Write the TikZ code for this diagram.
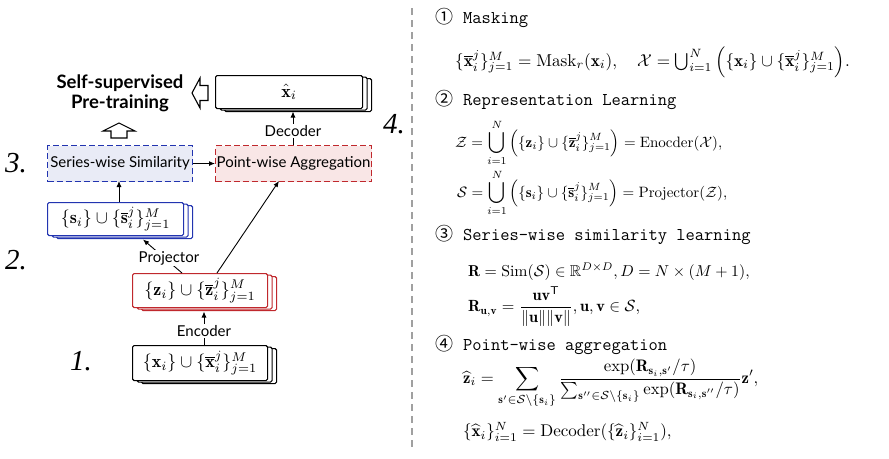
\documentclass[tikz,border=0pt]{standalone}
\usepackage{fontspec}
\usepackage{amsmath,amssymb}
\usepackage{graphicx}
\usetikzlibrary{shadows,arrows.meta}
\newfontfamily\labfont{Lato}
\newfontfamily\symfont{Noto Sans CJK SC}
\newfontfamily\numfont{Liberation Serif}
\definecolor{blueline}{HTML}{2234B0}
\definecolor{redline}{HTML}{C0282D}
\definecolor{bluefill}{HTML}{E9EBF6}
\definecolor{redfill}{HTML}{F9E6E6}
\definecolor{sepgray}{HTML}{A0A0A0}
\newcommand\EQ[2]{\scalebox{#1}{$#2$}}
\newcommand\DEQ[2]{\scalebox{#1}{$\displaystyle #2$}}
\newcommand\BX[1]{\scalebox{1.8}{$#1$}}
\newcommand\HD[2]{{\fontsize{18}{21}\selectfont\makebox[28pt][l]{\symfont #1}\ttfamily #2}}
\begin{document}
\begin{tikzpicture}[x=1pt,y=-1pt,
  box/.style={draw, line width=1.1pt, rounded corners=1.5pt, fill=white, inner sep=0pt, anchor=north west},
  stack/.style={double copy shadow={shadow xshift=4.5pt, shadow yshift=-1.5pt}},
  dbox/.style={draw, line width=1.1pt, dash pattern=on 6pt off 3pt, inner sep=0pt, anchor=north west, font=\labfont\fontsize{15}{17}\selectfont},
  lab/.style={font=\labfont\fontsize{15}{17}\selectfont, fill=white, inner sep=1pt},
  arr/.style={line width=0.9pt, -{Latex[length=6pt,width=5pt]}},
  num/.style={font=\numfont\itshape\fontsize{29}{32}\selectfont},
  hd/.style={anchor=west, inner sep=0pt},
  eq/.style={anchor=west, inner sep=0pt},
  hollow/.style={draw, line width=1.1pt, fill=white, line join=miter}
]
\useasboundingbox (0,0) rectangle (889,458);

% left diagram boxes
\node[box, stack, minimum width=147pt, minimum height=33pt] (xhat) at (215,75) {\BX{\hat{\mathbf{x}}_i}};
\node[dbox, draw=blueline, fill=bluefill, minimum width=145pt, minimum height=36pt] (sim) at (47,145) {Series-wise Similarity};
\node[dbox, draw=redline, fill=redfill, minimum width=156pt, minimum height=36pt] (agg) at (215,145) {Point-wise Aggregation};
\node[box, stack, draw=blueline, minimum width=136pt, minimum height=33pt] (s) at (47,202) {\BX{\{\mathbf{s}_i\}\cup\{\overline{\mathbf{s}}_i^j\}_{j=1}^M}};
\node[box, stack, draw=redline, minimum width=135pt, minimum height=34pt] (z) at (132,273) {\BX{\{\mathbf{z}_i\}\cup\{\overline{\mathbf{z}}_i^j\}_{j=1}^M}};
\node[box, stack, minimum width=135pt, minimum height=35pt] (x) at (132,345) {\BX{\{\mathbf{x}_i\}\cup\{\overline{\mathbf{x}}_i^j\}_{j=1}^M}};

% title
\node[font=\labfont\bfseries\fontsize{18.5}{20}\selectfont, align=center, inner sep=0pt] (title) at (120,93) {Self-supervised\\Pre-training};

% hollow arrows
\draw[hollow] (192,93) -- (200,78) -- (200,85.5) -- (208,85.5) -- (208,100.5) -- (200,100.5) -- (200,108) -- cycle;
\draw[hollow] (119,123) -- (135,131) -- (127,131) -- (127,138) -- (111,138) -- (111,131) -- (103,131) -- cycle;

% connectors
\coordinate (encS) at (204,345);
\coordinate (encT) at (204,311.5);
\draw[arr] (encS) -- (encT);
\node[lab] at (204,331) {Encoder};
\coordinate (prS) at (182,273);
\coordinate (prT) at (143,239.5);
\draw[arr] (prS) -- (prT);
\node[lab] at (169,258) {Projector};
\coordinate (zaS) at (217,273);
\coordinate (zaT) at (279,181);
\draw[arr] (zaS) -- (zaT);
\coordinate (ssS) at (119,202);
\coordinate (ssT) at (119,181);
\draw[arr] (ssS) -- (ssT);
\draw[arr] (sim.east) -- (agg.west);
\coordinate (decS) at (293,145);
\coordinate (decT) at (293,111.5);
\draw[arr] (decS) -- (decT);
\node[lab] at (293,131) {Decoder};

% step numbers
\node[num] (n1) at (81,361) {1.};
\node[num] (n2) at (16,260) {2.};
\node[num] (n3) at (16,163) {3.};
\node[num] (n4) at (394,124) {4.};

% separator
\draw[sepgray, line width=1.3pt, dash pattern=on 7pt off 5pt] (412,8) -- (412,448);

% right side text
\node[hd] (h1) at (435,18) {\HD{①}{Masking}};
\node[eq] (e1) at (455,62) {\EQ{1.72}{\{\overline{\mathbf{x}}_i^j\}_{j=1}^M = \mathrm{Mask}_r(\mathbf{x}_i),\quad \mathcal{X} = \textstyle\bigcup_{i=1}^N \Big(\{\mathbf{x}_i\}\cup\{\overline{\mathbf{x}}_i^j\}_{j=1}^M\Big).}};
\node[hd] (h2) at (435,100) {\HD{②}{Representation Learning}};
\node[eq] (e2) at (455,143) {\DEQ{1.5}{\mathcal{Z} = \bigcup_{i=1}^N \Big(\{\mathbf{z}_i\}\cup\{\overline{\mathbf{z}}_i^j\}_{j=1}^M\Big) = \mathrm{Enocder}(\mathcal{X}),}};
\node[eq] (e3) at (457,193) {\DEQ{1.5}{\mathcal{S} = \bigcup_{i=1}^N \Big(\{\mathbf{s}_i\}\cup\{\overline{\mathbf{s}}_i^j\}_{j=1}^M\Big) = \mathrm{Projector}(\mathcal{Z}),}};
\node[hd] (h3) at (435,235) {\HD{③}{Series-wise similarity learning}};
\node[eq] (e4) at (468,272) {\EQ{1.58}{\mathbf{R} = \mathrm{Sim}(\mathcal{S}) \in \mathbb{R}^{D\times D}, D = N\times(M+1),}};
\node[eq] (e5) at (468,307) {\DEQ{1.62}{\mathbf{R}_{\mathbf{u},\mathbf{v}} = \frac{\mathbf{u}\mathbf{v}^{\mathsf{T}}}{\|\mathbf{u}\|\|\mathbf{v}\|}, \mathbf{u},\mathbf{v}\in\mathcal{S},}};
\node[hd] (h4) at (435,345) {\HD{④}{Point-wise aggregation}};
\node[eq] (e6) at (463,384) {\DEQ{1.67}{\widehat{\mathbf{z}}_i = \sum_{\mathbf{s}'\in\mathcal{S}\setminus\{\mathbf{s}_i\}} \frac{\exp(\mathbf{R}_{\mathbf{s}_i,\mathbf{s}'}/\tau)}{\sum_{\mathbf{s}''\in\mathcal{S}\setminus\{\mathbf{s}_i\}}\exp(\mathbf{R}_{\mathbf{s}_i,\mathbf{s}''}/\tau)}\mathbf{z}',}};
\node[eq] (e7) at (463,432) {\EQ{1.7}{\{\widehat{\mathbf{x}}_i\}_{i=1}^N = \mathrm{Decoder}(\{\widehat{\mathbf{z}}_i\}_{i=1}^N),}};
\end{tikzpicture}
\end{document}
